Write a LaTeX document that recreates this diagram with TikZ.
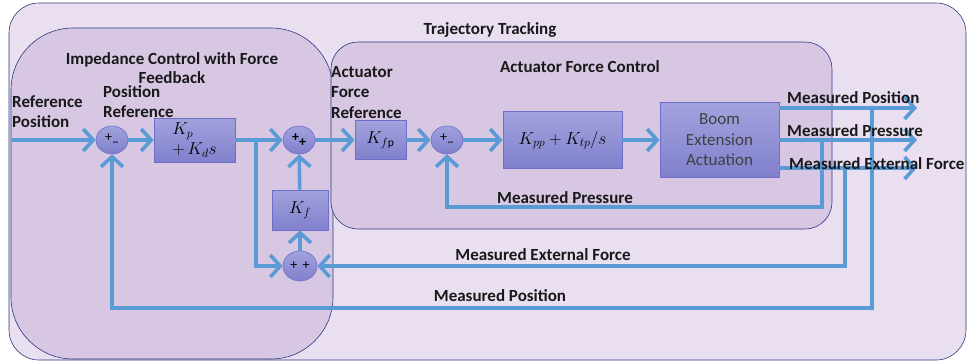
\documentclass[tikz,border=0pt]{standalone}
\usepackage{fontspec}
\setmainfont{Carlito}
\usetikzlibrary{arrows.meta,positioning,shapes.geometric}
\definecolor{outerfill}{RGB}{233,223,241}
\definecolor{innerfill}{RGB}{215,199,227}
\definecolor{framecol}{RGB}{47,57,128}
\definecolor{sigblue}{RGB}{91,155,213}
\definecolor{blocktop}{RGB}{162,162,222}
\definecolor{blockbot}{RGB}{128,128,205}
\definecolor{blockedge}{RGB}{110,110,200}
\begin{document}
\begin{tikzpicture}[x=1pt,y=-1pt,
  sig/.style={draw=sigblue,line width=3.6pt,-{Straight Barb[length=10pt,width=22pt]}},
  blk/.style={draw=blockedge,line width=0.8pt,top color=blocktop,bottom color=blockbot,
    rectangle,inner sep=0pt,font=\fontsize{16.5}{20}\selectfont},
  sumjn/.style={ellipse,draw=blockedge,line width=0.6pt,top color=blocktop,bottom color=blockbot,
    minimum width=32pt,minimum height=28pt,inner sep=0pt,font=\fontsize{14}{14}\selectfont},
  lbl/.style={font=\fontsize{17}{20.5}\bfseries\selectfont,text=black!90,inner sep=0pt},
  zone/.style={draw=framecol,line width=0.6pt}]
\useasboundingbox (0,0) rectangle (967,362);
\path[zone,fill=outerfill,rounded corners=30pt] (9,3) rectangle (966,360);
\path[zone,fill=innerfill,rounded corners=62pt] (11,28) rectangle (333,359);
\path[zone,fill=innerfill,rounded corners=27pt] (331,42) rectangle (832,229);
\node[lbl] (ttrack) at (490,30) {Trajectory Tracking};
\node[lbl,align=center,font=\fontsize{17}{19}\bfseries\selectfont] (timp) at (172,68) {Impedance Control with Force\\Feedback};
\node[lbl] (tafc) at (580,67) {Actuator Force Control};
\node[lbl,align=left,anchor=north west] (lrefpos) at (12,95) {Reference\\Position};
\node[lbl,align=left,anchor=north west] (lposref) at (103,85) {Position\\Reference};
\node[lbl,align=left,anchor=north west] (lactref) at (331,66) {Actuator\\Force\\Reference};
% blocks and summing junctions
\node[sumjn] (sum1) at (112,140) {+\raisebox{-5pt}{--}};
\node[blk,minimum width=81pt,minimum height=44pt,align=left] (kp) at (194.5,140) {$K_p$\\$+\,K_d s$};
\node[sumjn] (sum2) at (299,140) {\textbf{+}\raisebox{-5pt}{\textbf{+}}};
\node[blk,minimum width=56pt,minimum height=40pt] (kf) at (300,210) {$K_f$};
\node[sumjn,minimum width=34pt,minimum height=30pt] (sum3) at (300,266) {+ \,+};
\node[blk,minimum width=51pt,minimum height=39pt] (kfp) at (380.5,140) {$K_{f\mathrm{p}}$};
\node[sumjn] (sum4) at (447,140) {+\raisebox{-5pt}{--}};
\node[blk,minimum width=119pt,minimum height=57pt] (kpp) at (562.5,140) {$K_{pp}+K_{tp}/s$};
\node[blk,minimum width=119pt,minimum height=75pt,align=center,text=black!75,
  font=\fontsize{17}{20.5}\selectfont] (boom) at (719.5,140) {Boom\\Extension\\Actuation};
% free ends
\coordinate (refin) at (12,140);
\coordinate (split) at (256,140);
\coordinate (outpos) at (917,108);
\coordinate (outprs) at (917,140);
\coordinate (outfrc) at (917,168);
\coordinate (fbprs) at (822,207);
\coordinate (fbfrc) at (845,266);
\coordinate (fbpos) at (872,308);
% forward path
\draw[sig] (refin) -- (sum1);
\draw[sig] (sum1) -- (kp);
\draw[sig] (kp) -- (sum2);
\draw[sig] (split) |- (sum3);
\draw[sig] (sum3) -- (kf);
\draw[sig] (kf) -- (sum2);
\draw[sig] (sum2) -- (kfp);
\draw[sig] (kfp) -- (sum4);
\draw[sig] (sum4) -- (kpp);
\draw[sig] (kpp) -- (boom);
\draw[sig] (outpos -| boom.east) -- (outpos);
\draw[sig] (outprs -| boom.east) -- (outprs);
\draw[sig] (outfrc -| boom.east) -- (outfrc);
% feedback loops
\draw[sig] (fbprs |- outprs) -- (fbprs) -| (sum4);
\draw[sig] (fbfrc |- outfrc) -- (fbfrc) -- (sum3);
\draw[sig] (fbpos |- outpos) -- (fbpos) -| (sum1);
\node[lbl,anchor=west] (lmpos) at (787,98) {Measured Position};
\node[lbl,anchor=west] (lmprs) at (787,131) {Measured Pressure};
\node[lbl,anchor=west] (lmfrc) at (789,164) {Measured External Force};
\node[lbl] (lfbprs) at (565,198) {Measured Pressure};
\node[lbl] (lfbfrc) at (543,255) {Measured External Force};
\node[lbl] (lfbpos) at (500,296) {Measured Position};
\end{tikzpicture}
\end{document}
